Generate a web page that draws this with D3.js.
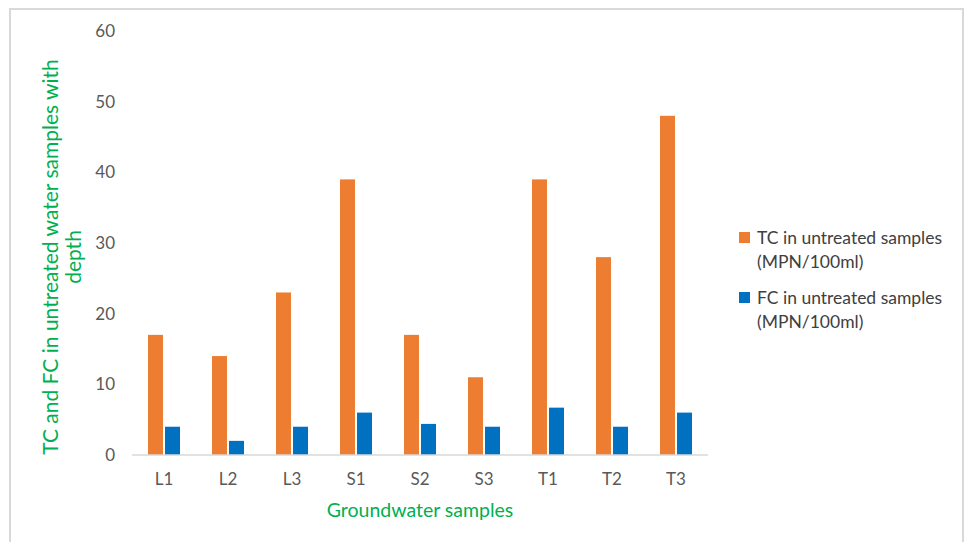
<!DOCTYPE html>
<html>
<head>
<meta charset="utf-8">
<script src="https://cdn.jsdelivr.net/npm/d3@7"></script>
<style>
  html, body { margin: 0; padding: 0; background: #fff; }
  svg { display: block; font-family: Lato, "Open Sans", sans-serif; }
</style>
</head>
<body>
<svg id="chart" width="967" height="542"></svg>
<script>
// Sample sites and coliform counts (MPN/100ml)
const samples = ["L1", "L2", "L3", "S1", "S2", "S3", "T1", "T2", "T3"];
const tcValues = [17, 14, 23, 39, 17, 11, 39, 28, 48];
const fcValues = [4, 2, 4, 6, 4.4, 4, 6.7, 4, 6];
const seriesNames = ["TC in untreated samples", "FC  in untreated samples"];
const seriesUnits = ["(MPN/100ml)", "(MPN/100ml)"];
const seriesColors = ["#ed7d31", "#0070c0"];
const yTicks = [0, 10, 20, 30, 40, 50, 60];

const svg = d3.select("#chart");

// outer frame
svg.append("rect")
  .attr("x", 10).attr("y", 9).attr("width", 953).attr("height", 545)
  .attr("fill", "#fff").attr("stroke", "#d9d9d9").attr("stroke-width", 2);

const plot = { left: 132, right: 708, top: 31, bottom: 455 };

const x = d3.scaleBand().domain(samples).range([plot.left, plot.right]).paddingInner(0.5).paddingOuter(0.25);
const xs = d3.scaleBand().domain([0, 1]).range([0, x.bandwidth()]).paddingInner(0.12);
const y = d3.scaleLinear().domain([0, 60]).range([plot.bottom, plot.top]);

// y axis labels (no line, no ticks)
const yAxis = svg.append("g")
  .attr("transform", `translate(${plot.left},0)`)
  .call(d3.axisLeft(y).tickValues(yTicks).tickSize(0).tickPadding(17));
yAxis.select(".domain").remove();
yAxis.selectAll("text").attr("fill", "#595959").style("font-size", "17px").style("font-family", "Lato, sans-serif");

// bars
const groups = svg.append("g").selectAll("g")
  .data(samples)
  .join("g")
  .attr("transform", d => `translate(${x(d)},0)`);

groups.selectAll("rect")
  .data((d, i) => [tcValues[i], fcValues[i]])
  .join("rect")
  .attr("x", (v, j) => xs(j))
  .attr("width", xs.bandwidth())
  .attr("y", v => y(v))
  .attr("height", v => y(0) - y(v))
  .attr("fill", (v, j) => seriesColors[j]);

// category axis
const xAxis = svg.append("g")
  .attr("transform", `translate(0,${plot.bottom})`)
  .call(d3.axisBottom(x).tickSize(0).tickPadding(18));
xAxis.select(".domain").attr("stroke", "#d9d9d9").attr("stroke-width", 1.5)
  .attr("d", `M${plot.left},0H${plot.right}`);
xAxis.selectAll("text").attr("fill", "#595959").style("font-size", "17px").style("font-family", "Lato, sans-serif");

// axis titles
svg.append("text")
  .attr("x", 420).attr("y", 517)
  .attr("text-anchor", "middle")
  .attr("fill", "#00b050")
  .style("font-size", "19.5px")
  .text("Groundwater samples");

const yTitle = svg.append("text")
  .attr("transform", "translate(0,257) rotate(-90)")
  .attr("text-anchor", "middle")
  .attr("fill", "#00b050")
  .style("font-size", "21px");
yTitle.append("tspan").attr("x", 0).attr("y", 58).text("TC and FC in untreated water samples with");
yTitle.append("tspan").attr("x", 0).attr("y", 81).text("depth");

// legend
const legend = svg.append("g").selectAll("g")
  .data(seriesNames)
  .join("g")
  .attr("transform", (d, i) => `translate(739,${232 + i * 60})`);
legend.append("rect").attr("width", 11).attr("height", 11).attr("fill", (d, i) => seriesColors[i]);
legend.append("text").attr("x", 18).attr("y", 12).attr("fill", "#404040").style("font-size", "17.5px").text(d => d);
legend.append("text").attr("x", 18).attr("y", 36).attr("fill", "#404040").style("font-size", "17.5px").text((d, i) => seriesUnits[i]);
</script>
</body>
</html>
